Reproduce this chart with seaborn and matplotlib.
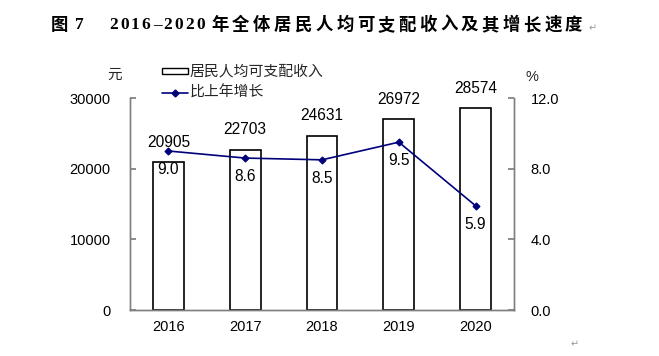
import numpy as np
import pandas as pd
import matplotlib
matplotlib.use("Agg")
import matplotlib.pyplot as plt
import seaborn as sns
from matplotlib.patches import Rectangle
from matplotlib.lines import Line2D

years = ["2016", "2017", "2018", "2019", "2020"]
income = [20905, 22703, 24631, 26972, 28574]
growth = [9.0, 8.6, 8.5, 9.5, 5.9]

sns.set_theme(style="white")
plt.rcParams["font.family"] = ["Liberation Sans", "Noto Sans CJK SC", "DejaVu Sans"]

df = pd.DataFrame({"year": years, "income": income, "growth": growth})
navy = "#00007a"
grey = "#7f7f7f"
cjk = ["Noto Sans CJK SC", "DejaVu Sans"]
W, H = 659, 356


def px(x, y):
    return x / W, 1 - y / H


fig = plt.figure(figsize=(6.59, 3.56), dpi=100)
ax = fig.add_axes([130 / W, 1 - 310 / H, 384 / W, 212 / H])

sns.barplot(data=df, x="year", y="income", ax=ax, width=0.4,
            color="white", edgecolor="black", linewidth=1.2, saturation=1)
ax.set_ylim(0, 30000)
ax.set_yticks([0, 10000, 20000, 30000])
ax.set_xlim(-0.5, 4.5)
ax.set_xlabel("")
ax.set_ylabel("")
for i, v in enumerate(income):
    ax.annotate(f"{v}", (i, v), xytext=(0, 9), textcoords="offset points",
                ha="center", va="bottom", fontsize=11.2, color="black")

ax2 = ax.twinx()
sns.pointplot(data=df, x="year", y="growth", ax=ax2, color=navy,
              markers="D", markersize=3.5, linewidth=1.2, linestyles="-")
ax2.set_ylim(0, 12)
ax2.set_yticks([0, 4, 8, 12])
ax2.set_yticklabels([f"{t:.1f}" for t in [0, 4, 8, 12]])
ax2.set_xlim(-0.5, 4.5)
ax2.set_ylabel("")
ax2.set_xlabel("")
for i, v in enumerate(growth):
    ax2.annotate(f"{v:.1f}", (i, v), xytext=(0, -8), textcoords="offset points",
                 ha="center", va="top", fontsize=11.2, color="black")

for a in (ax, ax2):
    a.spines["top"].set_visible(False)
    for s in ("left", "right", "bottom"):
        a.spines[s].set_color(grey)
        a.spines[s].set_linewidth(1.0)
    a.grid(False)

ax.set_xticks(np.arange(5))
ax.set_xticklabels(years)
ax.set_xticks(np.arange(0.5, 4.5, 1), minor=True)
ax.tick_params(axis="x", which="major", length=0, pad=7, labelsize=10.5, colors="black")
ax.tick_params(axis="x", which="minor", direction="in", length=4, color=grey, width=1)
ax.tick_params(axis="y", direction="in", length=4, color=grey, pad=14, labelsize=10.5, labelcolor="black")
ax2.tick_params(axis="y", direction="in", length=4, color=grey, pad=12, labelsize=10.5, labelcolor="black")

# unit labels
fig.text(*px(114.5, 75), "元", ha="center", va="center", fontsize=10.5, family=cjk)
fig.text(*px(532, 77), "%", ha="center", va="center", fontsize=10.5)

# legend
fig.patches.append(Rectangle(px(162, 74), 26 / W, 6 / H, transform=fig.transFigure,
                             facecolor="white", edgecolor="black", linewidth=1.0))
fig.add_artist(Line2D([162 / W, 188 / W], [1 - 93 / H] * 2,
                      transform=fig.transFigure, color=navy, linewidth=1.2))
fig.add_artist(Line2D([175 / W], [1 - 93 / H], transform=fig.transFigure,
                      color=navy, marker="D", markersize=3.5, linestyle="none"))
fig.text(*px(190, 71), "居民人均可支配收入", ha="left", va="center",
         fontsize=10.7, family=cjk)
fig.text(*px(190, 93), "比上年增长", ha="left", va="center",
         fontsize=10.7, family=cjk)

# title, drawn glyph by glyph to get the wide letter spacing
ty = 25
title_font = dict(va="center", ha="center", fontsize=12.5, fontweight="bold", color="black")
fig.text(*px(59.5, ty), "图", family=cjk, **title_font)
fig.text(*px(79, ty), "7", family=["Liberation Serif"], **title_font)
for k, ch in enumerate("2016–2020"):
    fig.text(*px(113.5 + 10.9 * k, ty), ch, family=["Liberation Serif"], **title_font)
for k, ch in enumerate("年全体居民人均可支配收入及其增长速度"):
    fig.text(*px(220 + 20.8 * k, ty), ch, family=cjk, **title_font)
fig.text(*px(593, ty + 3), "↵", ha="center", va="center", fontsize=7,
         color="#999999", family=["DejaVu Sans"])
fig.text(*px(575, 344), "↵", ha="center", va="center", fontsize=7,
         color="#999999", family=["DejaVu Sans"])

fig.savefig("out.png", dpi=100)
